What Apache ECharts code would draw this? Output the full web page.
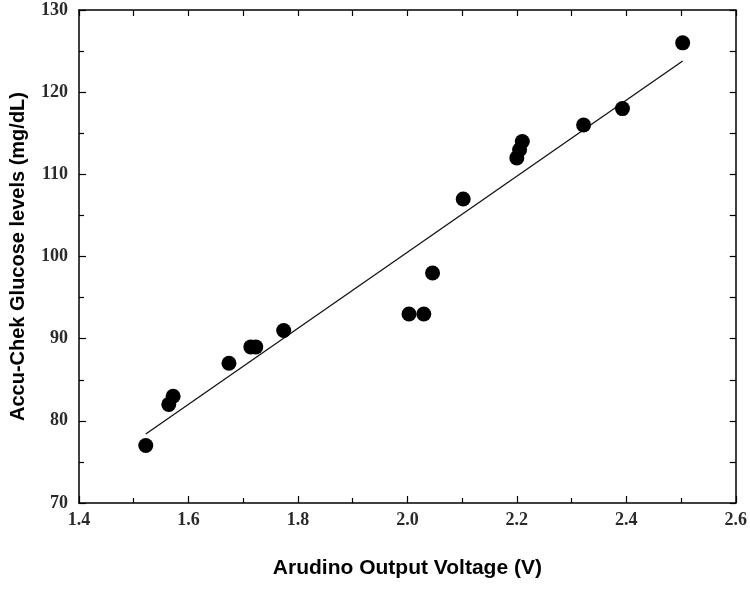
<!DOCTYPE html>
<html>
<head>
<meta charset="utf-8">
<script src="https://cdn.jsdelivr.net/npm/echarts@6/dist/echarts.min.js"></script>
<style>
  html, body { margin: 0; padding: 0; background: #fff; }
  #chart { width: 750px; height: 595px; }
</style>
</head>
<body>
<div id="chart"></div>
<script>
// measured points (voltage, glucose)
const voltage = [1.522, 1.564, 1.572, 1.674, 1.714, 1.723, 1.774, 2.003, 2.030, 2.046, 2.102, 2.200, 2.205, 2.210, 2.322, 2.393, 2.503];
const glucose = [77, 82, 83, 87, 89, 89, 91, 93, 93, 98, 107, 112, 113, 114, 116, 118, 126];

// fitted line end points
const fitX = [1.522, 2.503];
const fitY = [78.4, 123.8];

const xTitle = "Arudino Output Voltage (V)";
const yTitle = "Accu-Chek Glucose levels (mg/dL)";

const chart = echarts.init(document.getElementById("chart"));

const tickLabel = {
  color: "#2a2a2a",
  fontFamily: "Liberation Serif",
  fontWeight: "bold",
  fontSize: 18,
};

const baseAxisLine = { lineStyle: { color: "#000", width: 1.5 } };

chart.setOption({
  animation: false,
  grid: { left: 77, right: 14, top: 10, bottom: 92 },
  xAxis: [
    {
      type: "value",
      min: 1.4,
      max: 2.6,
      interval: 0.2,
      axisLine: baseAxisLine,
      axisTick: { inside: true, length: 7, lineStyle: { color: "#000", width: 1.2 } },
      minorTick: { show: true, splitNumber: 2, length: 5, lineStyle: { color: "#000", width: 1.2 } },
      splitLine: { show: false },
      axisLabel: { ...tickLabel, margin: 8, formatter: (v) => v.toFixed(1) },
      name: xTitle,
      nameLocation: "middle",
      nameGap: 55,
      nameTextStyle: { color: "#000", fontFamily: "Liberation Sans", fontWeight: "bold", fontSize: 21 },
    },
    {
      type: "value",
      position: "top",
      min: 1.4,
      max: 2.6,
      interval: 0.1,
      axisLine: { show: true, onZero: false, lineStyle: { color: "#000", width: 1.5 } },
      axisTick: { inside: true, length: 6, lineStyle: { color: "#000", width: 1.2 } },
      axisLabel: { show: false },
      splitLine: { show: false },
    },
  ],
  yAxis: [
    {
      type: "value",
      min: 70,
      max: 130,
      interval: 10,
      axisLine: { show: true, lineStyle: { color: "#000", width: 1.5 } },
      axisTick: { show: true, inside: true, length: 7, lineStyle: { color: "#000", width: 1.2 } },
      minorTick: { show: true, splitNumber: 2, length: 5, lineStyle: { color: "#000", width: 1.2 } },
      splitLine: { show: false },
      axisLabel: { ...tickLabel, margin: 11 },
      name: yTitle,
      nameLocation: "middle",
      nameGap: 51,
      nameTextStyle: { color: "#000", fontFamily: "Liberation Sans", fontWeight: "bold", fontSize: 20 },
    },
    {
      type: "value",
      position: "right",
      min: 70,
      max: 130,
      interval: 5,
      axisLine: { show: true, onZero: false, lineStyle: { color: "#000", width: 1.5 } },
      axisTick: { show: true, inside: true, length: 6, lineStyle: { color: "#000", width: 1.2 } },
      axisLabel: { show: false },
      splitLine: { show: false },
    },
  ],
  series: [
    {
      name: "fit",
      type: "line",
      data: fitX.map((x, i) => [x, fitY[i]]),
      symbol: "none",
      lineStyle: { color: "#111", width: 1.3 },
      z: 2,
    },
    {
      name: "data",
      type: "scatter",
      data: voltage.map((x, i) => [x, glucose[i]]),
      symbol: "circle",
      symbolSize: 15,
      itemStyle: { color: "#000", opacity: 1 },
      z: 3,
    },
  ],
});
</script>
</body>
</html>
